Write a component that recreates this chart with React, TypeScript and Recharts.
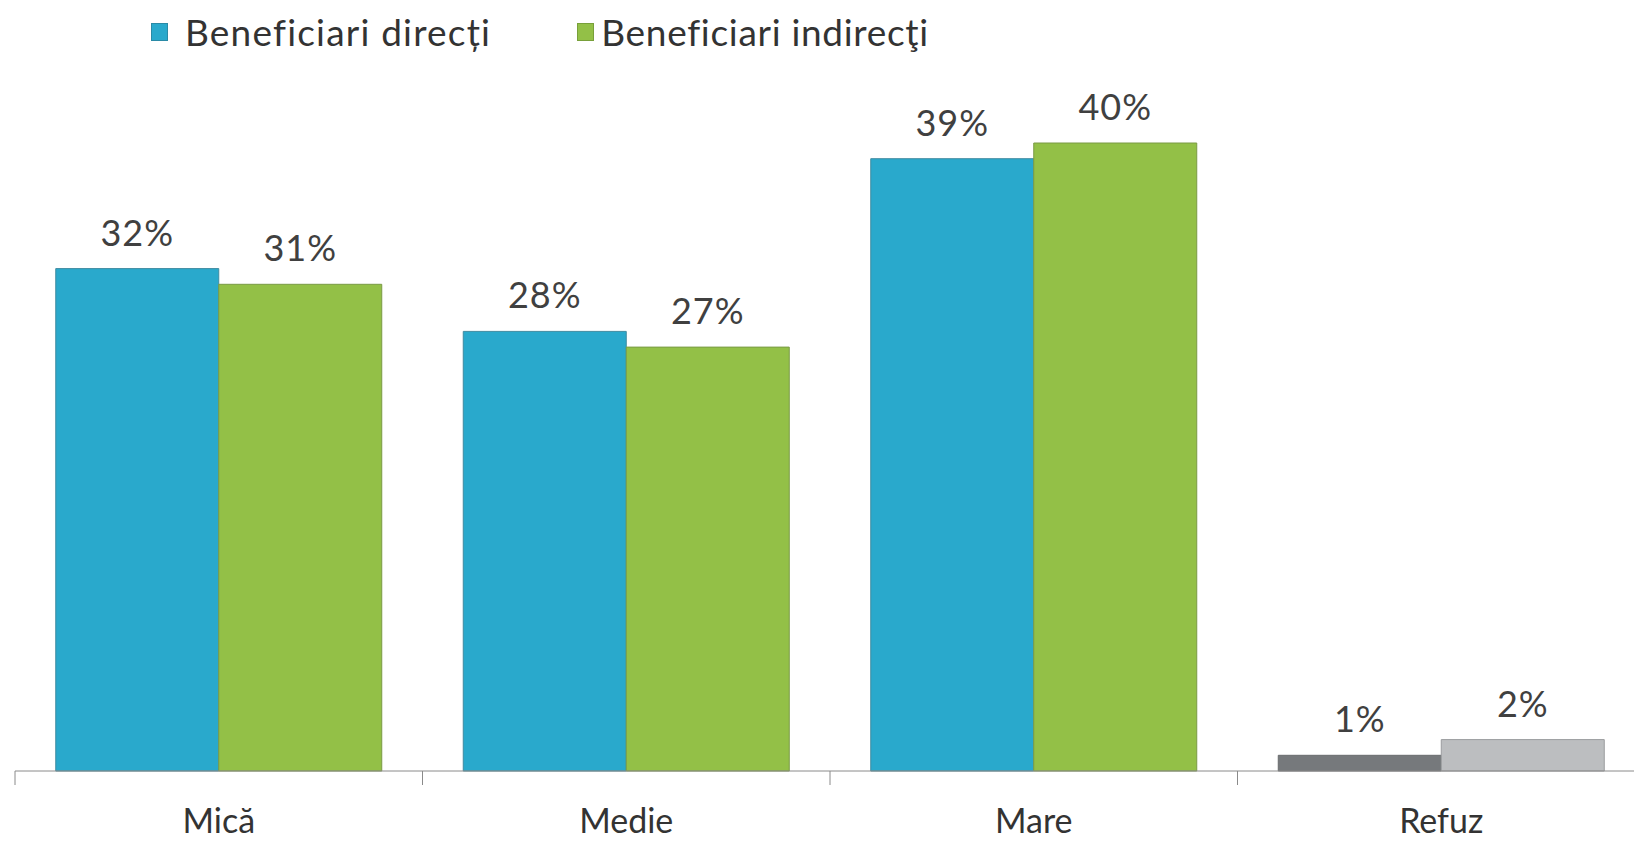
import React from "react";
import { BarChart, Bar, XAxis, YAxis, Cell, LabelList } from "recharts";

const categories = ["Mică", "Medie", "Mare", "Refuz"];
const directi = [32, 28, 39, 1];
const indirecti = [31, 27, 40, 2];
const seriesNames = ["Beneficiari direcți", "Beneficiari indirecţi"];

const BLUE = "#29a9cc";
const GREEN = "#93c047";
const DARK_GREY = "#76797c";
const LIGHT_GREY = "#bcbec0";

const data = categories.map((name, i) => ({
  name,
  directi: directi[i],
  indirecti: indirecti[i],
}));

const FONT = "Lato, 'Open Sans', sans-serif";
const AXIS_COLOR = "#8a8a8a";

// eslint-disable-next-line @typescript-eslint/no-explicit-any
const CategoryTick = (props: any) => {
  const { x, y, payload } = props;
  const half = payload.offset || 0;
  const axisY = y - 14;
  return (
    <g>
      <line
        x1={x - half}
        x2={x - half}
        y1={axisY}
        y2={axisY + 14}
        stroke={AXIS_COLOR}
      />
      <text
        x={x}
        y={833}
        textAnchor="middle"
        fontFamily={FONT}
        fontSize={34}
        fill="#333"
      >
        {payload.value}
      </text>
    </g>
  );
};

const labelStyle = {
  fontFamily: FONT,
  fontSize: 36,
  fill: "#404040",
  letterSpacing: 1,
};

export default function App() {
  return (
    <div
      style={{
        position: "absolute",
        left: 0,
        top: 0,
        width: 1634,
        height: 842,
        overflow: "hidden",
        background: "#fff",
      }}
    >
      <div
        style={{
          position: "absolute",
          left: 151,
          top: 10,
          display: "flex",
          alignItems: "center",
          fontFamily: FONT,
          fontSize: 37,
          color: "#333",
          lineHeight: "44px",
          zIndex: 2,
        }}
      >
        <span
          style={{
            width: 15,
            height: 16,
            background: BLUE,
            border: "1px solid #2a8aa6",
            marginRight: 17,
          }}
        />
        <span style={{ marginRight: 86, letterSpacing: 1.2 }}>
          {seriesNames[0]}
        </span>
        <span
          style={{
            width: 15,
            height: 16,
            background: GREEN,
            border: "1px solid #78a03a",
            marginRight: 7,
          }}
        />
        <span style={{ letterSpacing: 0.7 }}>{seriesNames[1]}</span>
      </div>
      <BarChart
        width={1675}
        height={842}
        data={data}
        margin={{ top: 143, right: 30, bottom: 41, left: 15 }}
        barCategoryGap="10%"
        barGap={0}
      >
        <XAxis
          dataKey="name"
          height={30}
          axisLine={{ stroke: AXIS_COLOR }}
          tickLine={false}
          tickSize={14}
          tickMargin={0}
          tick={<CategoryTick />}
          interval={0}
        />
        <YAxis hide domain={[0, 40]} />
        <Bar dataKey="directi" name={seriesNames[0]} isAnimationActive={false}>
          {data.map((d, i) => (
            <Cell
              key={`d-${i}`}
              fill={d.name === "Refuz" ? DARK_GREY : BLUE}
              stroke={d.name === "Refuz" ? "#6a6c6e" : "#3f8ba0"}
            />
          ))}
          <LabelList
            dataKey="directi"
            position="top"
            offset={23}
            formatter={(v: number) => `${v}%`}
            style={labelStyle}
          />
        </Bar>
        <Bar
          dataKey="indirecti"
          name={seriesNames[1]}
          isAnimationActive={false}
        >
          {data.map((d, i) => (
            <Cell
              key={`i-${i}`}
              fill={d.name === "Refuz" ? LIGHT_GREY : GREEN}
              stroke={d.name === "Refuz" ? "#9a9c9e" : "#7a9a45"}
            />
          ))}
          <LabelList
            dataKey="indirecti"
            position="top"
            offset={23}
            formatter={(v: number) => `${v}%`}
            style={labelStyle}
          />
        </Bar>
      </BarChart>
    </div>
  );
}
